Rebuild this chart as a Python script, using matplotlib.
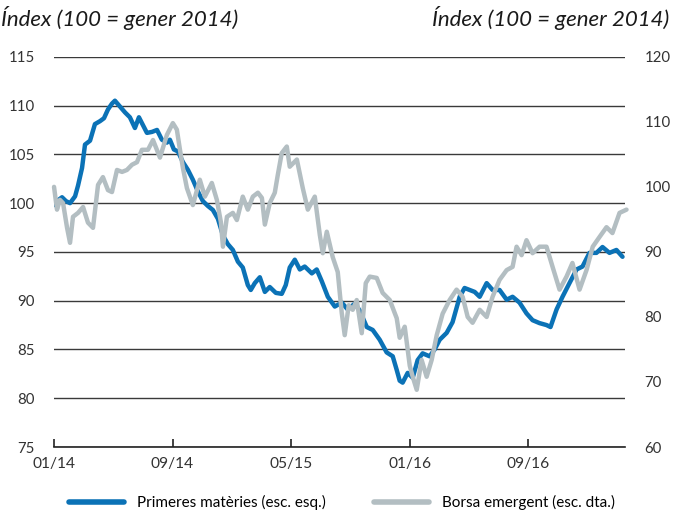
import matplotlib
matplotlib.use("Agg")
import matplotlib.pyplot as plt
from matplotlib.lines import Line2D

plt.rcParams['font.family'] = ['Lato', 'DejaVu Sans']

# mesos des de gener 2014
mes_pm = [0, 0.27, 0.54, 0.81, 1.08, 1.42, 1.62, 1.89, 2.09, 2.43, 2.76, 3.10, 3.37, 3.64, 3.91,
          4.11, 4.45, 4.79, 5.12, 5.46, 5.73, 6.00, 6.27, 6.61, 6.95, 7.28, 7.62, 7.82, 8.09, 8.36,
          8.70, 9.04, 9.37, 9.71, 10.05, 10.39, 10.72, 11.06, 11.40, 11.73, 12.07, 12.41, 12.74,
          13.08, 13.28, 13.55, 13.89, 14.23, 14.56, 14.97, 15.37, 15.64, 15.91, 16.25, 16.59,
          16.92, 17.40, 17.73, 18.07, 18.48, 18.95, 19.42, 19.82, 20.30, 20.63, 21.11, 21.51,
          21.98, 22.45, 22.86, 23.13, 23.33, 23.53, 23.87, 24.21, 24.54, 24.88, 25.35, 25.69,
          26.03, 26.50, 26.90, 27.38, 27.71, 28.05, 28.39, 28.73, 29.20, 29.60, 30.07, 30.55,
          30.95, 31.42, 31.89, 32.30, 32.77, 33.24, 33.51, 33.92, 34.32, 34.79, 35.27, 35.67,
          36.14, 36.61, 37.02, 37.49, 37.96, 38.37]
primeres = [99.8, 100.3, 100.6, 100.2, 100.0, 100.7, 101.8, 103.6, 106.0, 106.4, 108.1, 108.4,
            108.7, 109.6, 110.2, 110.5, 109.9, 109.3, 108.8, 107.7, 108.8, 108.0, 107.2, 107.3,
            107.5, 106.5, 106.2, 106.5, 105.5, 105.3, 104.2, 103.4, 102.4, 101.2, 100.2, 99.7,
            99.3, 98.4, 96.7, 95.8, 95.2, 94.0, 93.4, 91.6, 91.1, 91.8, 92.4, 90.9, 91.4, 90.8,
            90.7, 91.6, 93.4, 94.2, 93.2, 93.5, 92.8, 93.2, 92.0, 90.4, 89.4, 89.8, 89.1, 89.7,
            89.0, 87.3, 87.0, 86.0, 84.7, 84.3, 82.9, 81.8, 81.6, 82.6, 82.1, 83.9, 84.6, 84.3,
            85.0, 86.0, 86.7, 87.8, 90.4, 91.3, 91.1, 90.9, 90.4, 91.8, 91.1, 91.1, 90.1, 90.4,
            89.8, 88.7, 88.0, 87.7, 87.5, 87.3, 89.1, 90.4, 91.8, 93.2, 93.5, 94.9, 94.9, 95.5,
            94.9, 95.2, 94.5]

mes_be = [0, 0.20, 0.40, 0.61, 0.88, 1.08, 1.28, 1.62, 1.96, 2.29, 2.63, 2.97, 3.30, 3.64, 3.91,
          4.25, 4.59, 4.92, 5.26, 5.60, 5.93, 6.34, 6.68, 7.15, 7.62, 8.02, 8.29, 8.50, 8.70,
          8.97, 9.37, 9.84, 10.18, 10.65, 10.99, 11.26, 11.40, 11.67, 12.07, 12.34, 12.74,
          13.08, 13.42, 13.76, 14.03, 14.23, 14.56, 14.90, 15.10, 15.37, 15.71, 15.91, 16.39,
          16.79, 17.13, 17.60, 17.94, 18.14, 18.41, 18.81, 19.15, 19.42, 19.62, 19.89, 20.16,
          20.43, 20.77, 21.04, 21.31, 21.78, 22.18, 22.66, 23.13, 23.33, 23.67, 24.01, 24.21,
          24.48, 24.81, 25.15, 25.49, 25.83, 26.23, 26.70, 27.17, 27.58, 27.92, 28.25, 28.73,
          29.20, 29.60, 30.07, 30.55, 30.95, 31.22, 31.56, 31.89, 32.30, 32.77, 33.24, 33.65,
          34.12, 34.59, 34.99, 35.47, 35.94, 36.36, 36.82, 37.29, 37.69, 38.17, 38.64]
borsa = [100.0, 96.5, 98.0, 97.5, 93.7, 91.4, 95.4, 96.0, 96.9, 94.5, 93.7, 100.3, 101.5, 99.5,
         99.2, 102.6, 102.3, 102.6, 103.4, 103.8, 105.7, 105.7, 107.2, 104.5, 108.0, 109.8,
         108.8, 105.7, 102.9, 99.8, 97.2, 101.1, 98.5, 100.6, 98.0, 94.6, 90.8, 95.4, 96.0,
         94.9, 98.5, 96.5, 98.5, 99.1, 98.3, 94.2, 97.5, 99.1, 101.8, 105.2, 106.2, 103.1,
         104.2, 99.8, 96.5, 98.5, 92.6, 89.8, 93.1, 89.2, 86.9, 80.6, 77.2, 81.8, 81.1, 82.6,
         77.5, 85.2, 86.2, 86.0, 83.7, 82.6, 79.8, 76.8, 78.5, 72.5, 70.8, 68.8, 73.4, 70.8,
         73.4, 77.2, 80.5, 82.6, 84.2, 83.1, 80.0, 79.1, 81.1, 80.0, 83.1, 85.7, 87.2, 87.7,
         90.8, 89.5, 91.8, 89.8, 90.8, 90.8, 87.7, 84.2, 86.2, 88.3, 84.2, 87.2, 90.8, 92.3,
         93.8, 92.9, 96.0, 96.5]

xticks = [0, 8, 16, 24, 32]
xlabels = ['01/14', '09/14', '05/15', '01/16', '09/16']

blau = '#0b72b6'
gris = '#b3bec2'

fig = plt.figure(figsize=(6.84, 5.21), dpi=100)
ax = fig.add_axes([0.079, 0.142, 0.835, 0.749])
ax2 = ax.twinx()

ax.plot(mes_pm, primeres, color=blau, lw=3.2, solid_joinstyle='round', solid_capstyle='round')
ax2.plot(mes_be, borsa, color=gris, lw=3.2, solid_joinstyle='round', solid_capstyle='round',
         clip_on=False)

ax.set_xlim(0, 38.55)
ax.set_ylim(75, 115)
ax2.set_ylim(60, 120)
ax.set_yticks(range(75, 116, 5))
ax2.set_yticks(range(60, 121, 10))
ax.yaxis.grid(True, color='#3a3a3a', lw=1)
ax.set_axisbelow(True)

for a in (ax, ax2):
    for s in ('top', 'left', 'right'):
        a.spines[s].set_visible(False)
ax2.spines['bottom'].set_visible(False)
ax.spines['bottom'].set_color('#222222')
ax.spines['bottom'].set_linewidth(1.2)

ax.set_xticks(xticks)
ax.set_xticklabels(xlabels)
ax.tick_params(axis='x', direction='in', length=6, width=1.2, color='#222222',
               labelsize=11.2, pad=7, labelcolor='#333333')
ax.tick_params(axis='y', length=0, labelsize=10.8, pad=14, labelcolor='#333333')
ax2.tick_params(axis='y', length=0, labelsize=10.8, pad=14, labelcolor='#333333')

fig.text(0.002, 0.988, 'Índex (100 = gener 2014)', ha='left', va='top',
         fontsize=16, style='italic', color='#1a1a1a')
fig.text(0.978, 0.988, 'Índex (100 = gener 2014)', ha='right', va='top',
         fontsize=16, style='italic', color='#1a1a1a')

handles = [Line2D([], [], color=blau, lw=4, solid_capstyle='round'),
           Line2D([], [], color=gris, lw=4, solid_capstyle='round')]
fig.legend(handles, ['Primeres matèries (esc. esq.)', 'Borsa emergent (esc. dta.)'],
           loc='lower center', bbox_to_anchor=(0.5, -0.005), ncol=2, frameon=False,
           fontsize=11, handlelength=3.6, columnspacing=3.2, handletextpad=0.8)

fig.savefig('out.png', dpi=100)
